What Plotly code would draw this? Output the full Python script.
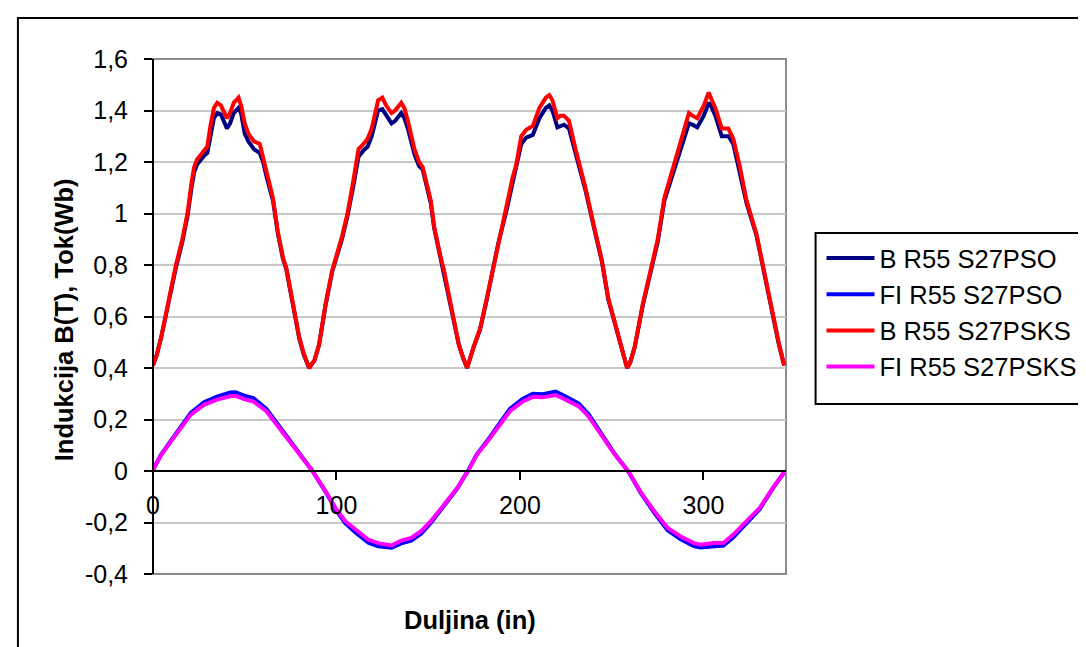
import plotly.graph_objects as go

# ---- data ----
b_x = [0, 2, 4.5, 8, 12.5, 16, 18.8, 21, 22.4, 24, 26, 28, 29.6, 31.3, 33.2, 35, 37, 40.3, 42, 44, 46.6, 48, 50, 52, 55, 58.2,
       60, 62, 65.4, 68, 70.8, 72.6, 76.2, 79.7, 82, 85.1,
       88, 90.5, 94.1, 97.7, 103, 106, 109, 112, 114.7, 117, 119.2, 121, 122.7, 125, 127, 130, 132, 135.3, 137, 138.9,
       142.5, 145, 147, 151.4, 153.2, 156.8, 158.6, 162.2, 166.7, 169, 171.2,
       174.7, 178.3, 181.9, 185.5, 188.2, 192.6, 196, 198, 200.7, 203.4, 207, 210.6, 214.1, 216, 217.7, 220.4, 222, 224,
       226.7, 230.3, 235.7, 241, 244.6, 248.2, 253.6, 256, 258.4,
       260, 262.5, 267, 271.5, 275.1, 278.7, 284, 286, 288.5, 292.1, 294, 296.6, 300.2, 302.9, 304, 306.5, 310, 313.6,
       316.3, 319.9, 323.5, 328.9, 331.5, 334, 337.8, 341, 344]

b_pso = [0.41, 0.45, 0.52, 0.645, 0.79, 0.89, 0.99, 1.10, 1.16, 1.19, 1.21, 1.225, 1.235, 1.30, 1.37, 1.39, 1.385, 1.33, 1.35, 1.39, 1.41, 1.39, 1.31, 1.28, 1.25, 1.235,
         1.20, 1.14, 1.05, 0.925, 0.825, 0.785, 0.645, 0.515, 0.455, 0.40,
         0.43, 0.49, 0.645, 0.775, 0.90, 0.99, 1.10, 1.22, 1.245, 1.26, 1.30, 1.35, 1.40, 1.405, 1.38, 1.35, 1.36, 1.39, 1.37, 1.33,
         1.23, 1.185, 1.17, 1.04, 0.945, 0.825, 0.775, 0.645, 0.49, 0.44, 0.40,
         0.48, 0.55, 0.665, 0.785, 0.885, 1.01, 1.12, 1.17, 1.27, 1.295, 1.305, 1.37, 1.41, 1.42, 1.40, 1.335, 1.34, 1.345,
         1.33, 1.23, 1.09, 0.925, 0.815, 0.665, 0.525, 0.455, 0.40,
         0.42, 0.48, 0.645, 0.775, 0.89, 1.05, 1.17, 1.21, 1.26, 1.35, 1.345, 1.335, 1.38, 1.43, 1.42, 1.38, 1.30, 1.30,
         1.27, 1.16, 1.04, 0.915, 0.825, 0.735, 0.605, 0.495, 0.41]

b_psks = [0.41, 0.45, 0.52, 0.65, 0.80, 0.90, 1.00, 1.12, 1.18, 1.21, 1.23, 1.25, 1.26, 1.34, 1.41, 1.43, 1.42, 1.37, 1.39, 1.43, 1.45, 1.42, 1.35, 1.31, 1.28, 1.27,
          1.22, 1.15, 1.06, 0.93, 0.83, 0.79, 0.65, 0.52, 0.46, 0.40,
          0.43, 0.49, 0.65, 0.78, 0.91, 1.00, 1.12, 1.25, 1.27, 1.29, 1.33, 1.39, 1.44, 1.45, 1.42, 1.39, 1.40, 1.43, 1.41, 1.36,
          1.25, 1.20, 1.18, 1.05, 0.95, 0.83, 0.78, 0.65, 0.49, 0.44, 0.40,
          0.48, 0.555, 0.67, 0.79, 0.89, 1.02, 1.14, 1.19, 1.30, 1.325, 1.34, 1.41, 1.45, 1.46, 1.44, 1.37, 1.38, 1.38,
          1.36, 1.25, 1.10, 0.93, 0.82, 0.67, 0.53, 0.46, 0.40,
          0.42, 0.48, 0.65, 0.78, 0.90, 1.06, 1.19, 1.24, 1.29, 1.39, 1.38, 1.37, 1.42, 1.47, 1.45, 1.41, 1.33, 1.33,
          1.29, 1.18, 1.05, 0.92, 0.83, 0.74, 0.61, 0.50, 0.41]

fi_x = [0, 4.5, 9.8, 15.2, 20.6, 27.8, 34.9, 42.1, 45, 49.3, 54.7, 61.8, 69, 76.2, 81.6, 86.9, 94.1, 99.5, 104.8, 110.2,
        117.4, 122.7, 130, 135.3, 140.7, 146.1, 151.4, 158.6, 165.8, 172, 176.5, 183.7, 189, 194.5, 201.6, 207, 212.4,
        219.5, 224.9, 232.1, 237.4, 244.6, 251.8, 258.9, 266.1, 273.3, 280.5, 287.6, 294.8, 298.4, 305.5, 310.9, 316.3,
        323.5, 330.6, 337.8, 344]

fi_pso = [0.005, 0.065, 0.118, 0.172, 0.226, 0.267, 0.289, 0.305, 0.306, 0.294, 0.283, 0.241, 0.172, 0.105, 0.051, 0.0,
          -0.081, -0.149, -0.203, -0.238, -0.279, -0.292, -0.298, -0.281, -0.271, -0.244, -0.202, -0.135, -0.068, 0.005,
          0.065, 0.132, 0.186, 0.241, 0.281, 0.300, 0.298, 0.308, 0.289, 0.262, 0.220, 0.139, 0.065, 0.0, -0.088, -0.163,
          -0.230, -0.265, -0.292, -0.297, -0.292, -0.290, -0.257, -0.202, -0.149, -0.068, -0.005]

fi_psks = [0.005, 0.063, 0.115, 0.167, 0.219, 0.257, 0.277, 0.290, 0.292, 0.280, 0.270, 0.232, 0.167, 0.102, 0.050, 0.0,
           -0.079, -0.144, -0.195, -0.228, -0.267, -0.280, -0.289, -0.270, -0.260, -0.234, -0.195, -0.131, -0.066, 0.005,
           0.063, 0.128, 0.180, 0.232, 0.270, 0.288, 0.286, 0.295, 0.277, 0.251, 0.212, 0.135, 0.063, 0.0, -0.085, -0.157,
           -0.221, -0.254, -0.280, -0.286, -0.280, -0.280, -0.247, -0.195, -0.144, -0.066, -0.005]

series_names = ["B R55 S27PSO", "FI R55 S27PSO", "B R55 S27PSKS", "FI R55 S27PSKS"]
series_colors = ["#000080", "#0000FF", "#FF0000", "#FF00FF"]

y_tickvals = [-0.4, -0.2, 0, 0.2, 0.4, 0.6, 0.8, 1, 1.2, 1.4, 1.6]
y_ticktext = ["-0,4", "-0,2", "0", "0,2", "0,4", "0,6", "0,8", "1", "1,2", "1,4", "1,6"]
x_tickvals = [0, 100, 200, 300]
x_ticktext = ["0", "100", "200", "300"]

x_title = "Duljina (in)"
y_title = "Indukcija B(T), Tok(Wb)"

# ---- figure ----
W, H = 1086, 647
ML, MR, MT, MB = 145, 299, 51, 81
PW, PH = W - ML - MR, H - MT - MB


def px_x(px):
    return (px - ML) / PW


def px_y(py):
    return (H - MB - py) / PH


FONT = "Liberation Sans, Arial, sans-serif"

fig = go.Figure()
xs = [b_x, fi_x, b_x, fi_x]
ys = [b_pso, fi_pso, b_psks, fi_psks]
for i in range(4):
    fig.add_trace(go.Scatter(
        x=xs[i], y=ys[i], mode="lines", name=series_names[i],
        line=dict(color=series_colors[i], width=4),
        legendgroup=f"g{i}",
    ))

fig.update_layout(
    width=W, height=H,
    margin=dict(l=ML, r=MR, t=MT, b=MB, pad=0),
    paper_bgcolor="white", plot_bgcolor="white",
    font=dict(family=FONT, size=25, color="black"),
    showlegend=True,
    legend=dict(
        x=px_x(823), y=px_y(227), xanchor="left", yanchor="top",
        bgcolor="rgba(0,0,0,0)", borderwidth=0,
        font=dict(family=FONT, size=25.5, color="black"),
        itemwidth=48, tracegroupgap=5.5, traceorder="normal",
    ),
    xaxis=dict(
        range=[0, 345], anchor="free", position=0.2,
        showline=True, linecolor="black", linewidth=2,
        ticks="outside", ticklen=8, tickwidth=2, tickcolor="black",
        tickvals=x_tickvals, ticktext=x_ticktext,
        ticklabelstandoff=4,
        showgrid=False, zeroline=False,
        tickfont=dict(family=FONT, size=25, color="black"),
    ),
    yaxis=dict(
        range=[-0.4, 1.6], anchor="free", position=0,
        showline=True, linecolor="black", linewidth=2,
        ticks="outside", ticklen=8, tickwidth=2, tickcolor="black",
        tickvals=y_tickvals, ticktext=y_ticktext,
        ticklabelstandoff=11,
        showgrid=True, gridcolor="#c8c8c8", gridwidth=2,
        zeroline=False,
        tickfont=dict(family=FONT, size=25, color="black"),
    ),
    shapes=[
        # plot area frame (grey, Excel style)
        dict(type="rect", xref="paper", yref="paper", x0=0, x1=1, y0=0, y1=1,
             line=dict(color="#8c8c8c", width=2), fillcolor="rgba(0,0,0,0)", layer="below"),
        # outer chart border
        dict(type="rect", xref="paper", yref="paper",
             x0=px_x(8), x1=px_x(1100), y0=px_y(665), y1=px_y(10),
             line=dict(color="black", width=2), fillcolor="rgba(0,0,0,0)", layer="below"),
        # legend border
        dict(type="rect", xref="paper", yref="paper",
             x0=px_x(817), x1=px_x(1100), y0=px_y(396), y1=px_y(225),
             line=dict(color="black", width=2), fillcolor="rgba(0,0,0,0)", layer="below"),
    ],
    annotations=[
        dict(text=f"<b>{x_title}</b>", xref="paper", yref="paper", x=0.5, y=px_y(611.5),
             xanchor="center", yanchor="middle", showarrow=False,
             font=dict(family=FONT, size=25.5, color="black")),
        dict(text=f"<b>{y_title}</b>", xref="paper", yref="paper", x=px_x(55), y=px_y(312),
             xanchor="center", yanchor="middle", showarrow=False, textangle=-90,
             font=dict(family=FONT, size=25.5, color="black")),
    ],
)

fig.write_html("out.html")
